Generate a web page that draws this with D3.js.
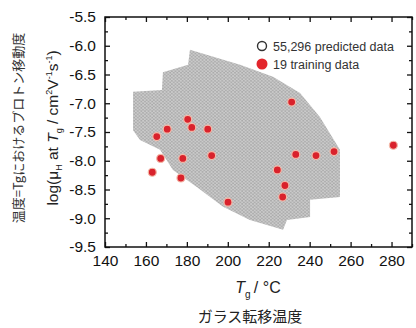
<!DOCTYPE html>
<html>
<head>
<meta charset="utf-8">
<script src="https://cdn.jsdelivr.net/npm/d3@7"></script>
<style>
  body { margin: 0; background: #fff; }
  svg { display: block; }
  .tick text { font-family: "Liberation Sans", Arial, sans-serif; }
</style>
</head>
<body>
<svg id="chart"></svg>
<script>
// tick values
const xTicks = [140, 160, 180, 200, 220, 240, 260, 280]
const xMinor = [150, 170, 190, 210, 230, 250, 270, 290]
const yTicks = [-9.5, -9.0, -8.5, -8.0, -7.5, -7.0, -6.5, -6.0, -5.5]
const yMinor = [-9.25, -8.75, -8.25, -7.75, -7.25, -6.75, -6.25, -5.75]

// 19 training data (Tg in degC, log mobility)
const trainTg    = [180.4, 182.4, 190.2, 170.4, 165.3, 167.2, 178.0, 192.1, 163.1, 177.1,
                    200.1, 231.2, 233.2, 243.1, 251.9, 224.2, 227.9, 226.8, 280.9]
const trainLogMu = [-7.28, -7.42, -7.45, -7.45, -7.58, -7.96, -7.96, -7.91, -8.20, -8.30,
                    -8.72, -6.98, -7.89, -7.91, -7.84, -8.16, -8.43, -8.63, -7.73]

// outline of the 55,296 predicted points
const cloudTg    = [181.5, 206.0, 222.1, 235.3, 245.0, 254.8, 254.8, 240.2, 240.2, 228.9,
                    227.0, 210.8, 197.7, 185.0, 173.2, 166.9, 157.1, 153.7, 153.7, 167.8,
                    168.3, 180.6]
const cloudLogMu = [-6.07, -6.33, -6.54, -6.82, -7.24, -7.81, -8.63, -8.68, -8.98, -9.03,
                    -9.20, -9.03, -8.80, -8.46, -8.16, -7.81, -7.64, -7.47, -6.80, -6.77,
                    -6.46, -6.33]

const legendLabels = ['55,296 predicted data', '19 training data']

const W = 416, H = 328
const plot = { left: 105, right: 412, top: 17, bottom: 247 }

const svg = d3.select('#chart').attr('width', W).attr('height', H)

const x = d3.scaleLinear().domain([140, 290]).range([plot.left, plot.right])
const y = d3.scaleLinear().domain([-9.5, -5.5]).range([plot.bottom, plot.top])

// pattern imitating the densely packed open circles
const defs = svg.append('defs')
const pat = defs.append('pattern')
    .attr('id', 'dots')
    .attr('patternUnits', 'userSpaceOnUse')
    .attr('width', 3.6)
    .attr('height', 3.2)
pat.append('rect').attr('width', 3.6).attr('height', 3.2).attr('fill', '#b4b4b4')
pat.selectAll('circle')
    .data([[0.9, 0.8], [2.7, 2.4]])
    .join('circle')
    .attr('cx', d => d[0]).attr('cy', d => d[1]).attr('r', 1.15)
    .attr('fill', '#e6e6e6').attr('stroke', '#979797').attr('stroke-width', 0.55)

const cloud = cloudTg.map((t, i) => [t, cloudLogMu[i]])
svg.append('path')
    .datum(cloud)
    .attr('d', d3.line().x(d => x(d[0])).y(d => y(d[1])).curve(d3.curveLinearClosed))
    .attr('fill', 'url(#dots)')

// training points
svg.append('g')
    .selectAll('circle')
    .data(trainTg.map((t, i) => [t, trainLogMu[i]]))
    .join('circle')
    .attr('cx', d => x(d[0]))
    .attr('cy', d => y(d[1]))
    .attr('r', 4)
    .attr('fill', '#d9222c')
    .attr('stroke', '#f3b9a8')
    .attr('stroke-width', 1.2)

// axes, ticks pointing inward
const font = '"Liberation Sans", Arial, sans-serif'
function styleAxis(g) {
    g.select('.domain').remove()
    g.selectAll('.tick line').attr('stroke', '#111').attr('stroke-width', 1.3)
    g.selectAll('.tick text').attr('fill', '#111').style('font-size', '15.5px')
}

svg.append('g')
    .attr('transform', `translate(0,${plot.bottom})`)
    .call(d3.axisBottom(x).tickValues(xTicks).tickSizeInner(-5).tickPadding(8).tickFormat(d3.format('d')))
    .call(styleAxis)
svg.append('g')
    .attr('transform', `translate(0,${plot.bottom})`)
    .call(d3.axisBottom(x).tickValues(xMinor).tickSizeInner(-3).tickFormat(''))
    .call(styleAxis)
svg.append('g')
    .attr('transform', `translate(0,${plot.top})`)
    .call(d3.axisTop(x).tickValues(xTicks).tickSizeInner(-5).tickFormat(''))
    .call(styleAxis)
svg.append('g')
    .attr('transform', `translate(0,${plot.top})`)
    .call(d3.axisTop(x).tickValues(xMinor).tickSizeInner(-3).tickFormat(''))
    .call(styleAxis)

svg.append('g')
    .attr('transform', `translate(${plot.left},0)`)
    .call(d3.axisLeft(y).tickValues(yTicks).tickSizeInner(-5).tickPadding(9).tickFormat(d3.format('.1f')))
    .call(styleAxis)
svg.append('g')
    .attr('transform', `translate(${plot.left},0)`)
    .call(d3.axisLeft(y).tickValues(yMinor).tickSizeInner(-3).tickFormat(''))
    .call(styleAxis)
svg.append('g')
    .attr('transform', `translate(${plot.right},0)`)
    .call(d3.axisRight(y).tickValues(yTicks).tickSizeInner(-5).tickFormat(''))
    .call(styleAxis)
svg.append('g')
    .attr('transform', `translate(${plot.right},0)`)
    .call(d3.axisRight(y).tickValues(yMinor).tickSizeInner(-3).tickFormat(''))
    .call(styleAxis)

// minus sign as hyphen like the original
svg.selectAll('.tick text').text(function () { return d3.select(this).text().replace('−', '-') })

svg.append('rect')
    .attr('x', plot.left).attr('y', plot.top)
    .attr('width', plot.right - plot.left).attr('height', plot.bottom - plot.top)
    .attr('fill', 'none').attr('stroke', '#111').attr('stroke-width', 1.5)

// legend
const legend = svg.append('g').attr('transform', 'translate(262,46)')
legend.append('circle').attr('r', 4.5).attr('fill', '#fff').attr('stroke', '#333').attr('stroke-width', 1.4)
legend.append('circle').attr('cy', 18).attr('r', 5.5).attr('fill', '#e3262c')
legend.selectAll('text')
    .data(legendLabels)
    .join('text')
    .attr('x', 11)
    .attr('y', (d, i) => i * 18 + 4.5)
    .attr('font-family', font)
    .attr('font-size', 12.5)
    .attr('fill', '#333')
    .text(d => d)

// x title
const xt = svg.append('text')
    .attr('x', 258).attr('y', 293)
    .attr('text-anchor', 'middle')
    .attr('font-family', font).attr('font-size', 16).attr('fill', '#222')
xt.append('tspan').attr('font-style', 'italic').text('T')
xt.append('tspan').attr('font-size', 10).attr('dy', 5).text('g')
xt.append('tspan').attr('dy', -5).text('\u2009/ °C')

svg.append('text')
    .attr('x', 250).attr('y', 322)
    .attr('text-anchor', 'middle')
    .attr('font-family', '"Noto Sans CJK JP", sans-serif').attr('font-size', 15).attr('fill', '#222')
    .text('ガラス転移温度')

// y title
const yt = svg.append('text')
    .attr('transform', 'translate(58,128) rotate(-90)')
    .attr('text-anchor', 'middle')
    .attr('font-family', font).attr('font-size', 15.5).attr('fill', '#222')
yt.append('tspan').text('log(μ')
yt.append('tspan').attr('font-size', 9).attr('dy', 4).text('H')
yt.append('tspan').attr('dy', -4).text(' at ')
yt.append('tspan').attr('font-style', 'italic').text('T')
yt.append('tspan').attr('font-size', 9).attr('dy', 4).text('g')
yt.append('tspan').attr('dy', -4).text(' / cm')
yt.append('tspan').attr('font-size', 9).attr('dy', -6).text('2')
yt.append('tspan').attr('dy', 6).text('V')
yt.append('tspan').attr('font-size', 9).attr('dy', -6).text('-1')
yt.append('tspan').attr('dy', 6).text('s')
yt.append('tspan').attr('font-size', 9).attr('dy', -6).text('-1')
yt.append('tspan').attr('dy', 6).text(')')

svg.append('text')
    .attr('transform', 'translate(23,128) rotate(-90)')
    .attr('text-anchor', 'middle')
    .attr('font-family', '"Noto Sans CJK JP", sans-serif').attr('font-size', 13).attr('fill', '#333')
    .text('温度=Tgにおけるプロトン移動度')
</script>
</body>
</html>
